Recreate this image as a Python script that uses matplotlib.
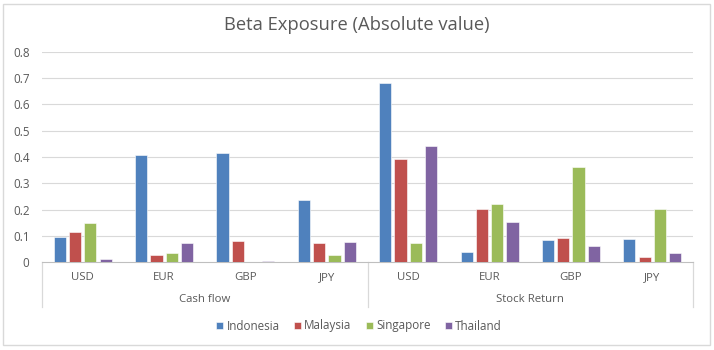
import matplotlib
matplotlib.use("Agg")
import matplotlib.pyplot as plt
from matplotlib.patches import Rectangle
import numpy as np

plt.rcParams['font.family'] = ['Open Sans', 'DejaVu Sans']

groups = ["Cash flow", "Stock Return"]
currencies = ["USD", "EUR", "GBP", "JPY"]
countries = ["Indonesia", "Malaysia", "Singapore", "Thailand"]
colors = ["#4F81BD", "#C0504D", "#9BBB59", "#8064A2"]

indonesia = [0.096, 0.409, 0.415, 0.237, 0.682, 0.038, 0.085, 0.090]
malaysia  = [0.114, 0.027, 0.080, 0.072, 0.394, 0.203, 0.092, 0.022]
singapore = [0.149, 0.035, 0.001, 0.027, 0.075, 0.220, 0.361, 0.201]
thailand  = [0.013, 0.072, 0.005, 0.077, 0.441, 0.152, 0.062, 0.035]
series = [indonesia, malaysia, singapore, thailand]

yticks = [0, 0.1, 0.2, 0.3, 0.4, 0.5, 0.6, 0.7, 0.8]
ytick_labels = ["0", "0.1", "0.2", "0.3", "0.4", "0.5", "0.6", "0.7", "0.8"]

W, H = 714, 350
fig = plt.figure(figsize=(W / 100, H / 100), dpi=100)
fig.patch.set_facecolor("white")

# chart border
fig.patches.append(Rectangle((3 / W, 5 / H), 707 / W, 341 / H, transform=fig.transFigure,
                             fill=False, edgecolor="#D9D9D9", linewidth=1.0))

x0, x1 = 42, 693
ytop, ybot = 51.7, 262.3
ax = fig.add_axes([x0 / W, (H - ybot) / H, (x1 - x0) / W, (ybot - ytop) / H])

n_cat = len(groups) * len(currencies)
x = np.arange(n_cat)
step = 0.188
bw = 0.15
for i, (name, vals, c) in enumerate(zip(countries, series, colors)):
    ax.bar(x + (i - 1.5) * step, vals, width=bw, color=c, label=name,
           edgecolor="white", linewidth=0.4, zorder=3)

ax.set_xlim(-0.5, n_cat - 0.5)
ax.set_ylim(0, 0.8)
ax.set_yticks(yticks)
ax.set_yticklabels(ytick_labels, fontsize=8.4, color="#595959")
ax.tick_params(axis="y", length=0, pad=9)
ax.set_xticks([])
for yv in yticks[1:]:
    ax.axhline(yv, color="#D9D9D9", linewidth=0.8, zorder=1)
for s in ["top", "right", "left"]:
    ax.spines[s].set_visible(False)
ax.spines["bottom"].set_color("#BFBFBF")
ax.spines["bottom"].set_linewidth(0.8)

# multi-level category axis
sep_bottom = (ybot - 307) / (ybot - ytop)
trans = ax.get_xaxis_transform()
for xs in [-0.5, 3.5, 7.5]:
    ax.plot([xs, xs], [0, sep_bottom], transform=trans, color="#D9D9D9",
            linewidth=0.9, clip_on=False)
cur_y = (ybot - 278) / (ybot - ytop)
grp_y = (ybot - 300) / (ybot - ytop)
for g, grp in enumerate(groups):
    for j, cur in enumerate(currencies):
        ax.text(g * 4 + j, cur_y, cur, transform=trans, ha="center", va="center",
                fontsize=8.2, color="#595959")
    ax.text(g * 4 + 1.5, grp_y, grp, transform=trans, ha="center", va="center",
            fontsize=8.2, color="#595959")

fig.text(357 / W, (H - 25) / H, "Beta Exposure (Absolute value)", ha="center",
         va="center", fontsize=13.2, color="#595959")

leg = fig.legend(loc="center", bbox_to_anchor=(359 / W, (H - 326) / H), ncol=4,
                 frameon=False, fontsize=8.4, handlelength=0.6, handleheight=0.6,
                 handletextpad=0.3, columnspacing=1.2)
for t in leg.get_texts():
    t.set_color("#595959")

fig.savefig("out.png", dpi=100)
